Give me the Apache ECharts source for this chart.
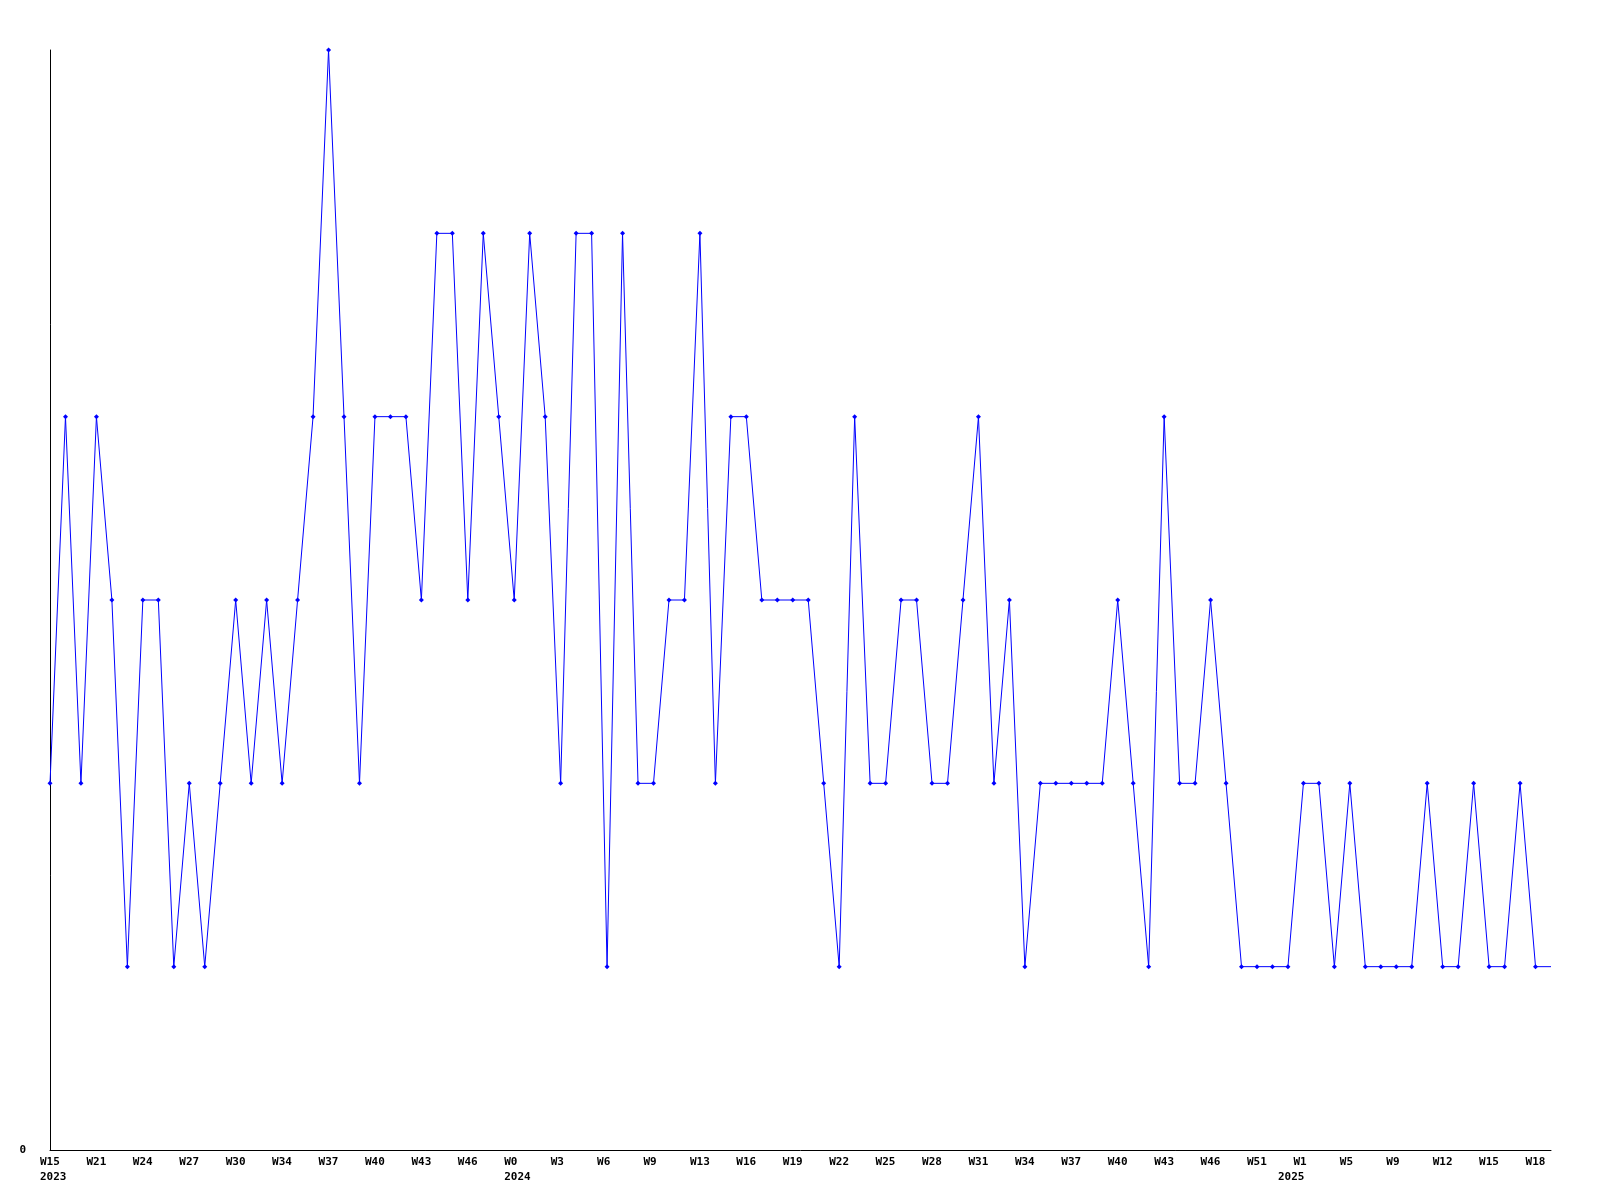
<!DOCTYPE html>
<html>
<head>
<meta charset="utf-8">
<script src="https://cdn.jsdelivr.net/npm/echarts@6/dist/echarts.min.js"></script>
<style>
html,body{margin:0;padding:0;background:#fff;}
#chart{width:1600px;height:1200px;}
</style>
</head>
<body>
<div id="chart"></div>
<script>
const weeks = [
 "W15","W17","W19","W21","W22","W23","W24","W25","W26","W27","W28","W29","W30","W31","W33",
 "W34","W35","W36","W37","W38","W39","W40","W41","W42","W43","W44","W45","W46","W48","W50",
 "W0","W1","W2","W3","W4","W5","W6","W7","W8","W9","W10","W12","W13","W14","W15",
 "W16","W17","W18","W19","W20","W21","W22","W23","W24","W25","W26","W27","W28","W29","W30",
 "W31","W32","W33","W34","W35","W36","W37","W38","W39","W40","W41","W42","W43","W44","W45",
 "W46","W48","W50","W51","W52","W0","W1","W2","W4","W5","W6","W8","W9","W10","W11",
 "W12","W13","W14","W15","W16","W17","W18","W19"
];
const years = [
 "2023","","","","","","","","","","","","","","",
 "","","","","","","","","","","","","","","",
 "2024","","","","","","","","","","","","","","",
 "","","","","","","","","","","","","","","",
 "","","","","","","","","","","","","","","",
 "","","","","","2025","","","","","","","","","",
 "","","","","","","",""
];
const values = [
 2,4,2,4,3,1,3,3,1,2,1,2,3,2,3,
 2,3,4,6,4,2,4,4,4,3,5,5,3,5,4,
 3,5,4,2,5,5,1,5,2,2,3,3,5,2,4,
 4,3,3,3,3,2,1,4,2,2,3,3,2,2,3,
 4,2,3,1,2,2,2,2,2,3,2,1,4,2,2,
 3,2,1,1,1,1,2,2,1,2,1,1,1,1,2,
 1,1,2,1,1,2,1,1
];
const yMin = 0, yMax = 6;

const seriesData = values.map((v, i) => i === values.length - 1 ? {value: v, symbol: 'none'} : v);

const labelFont = {
  color: '#000',
  fontFamily: 'DejaVu Sans Mono',
  fontWeight: 'bold',
  fontSize: 11
};

const chart = echarts.init(document.getElementById('chart'), null, {renderer: 'canvas'});
chart.setOption({
  animation: false,
  backgroundColor: '#ffffff',
  grid: {left: 50, right: 49, top: 50, bottom: 50, containLabel: false},
  xAxis: [{
    type: 'category',
    data: weeks,
    boundaryGap: false,
    position: 'bottom',
    axisLine: {lineStyle: {color: '#000', width: 1}},
    axisTick: {show: false},
    splitLine: {show: false},
    axisLabel: {
      interval: 2,
      margin: 7,
      verticalAlign: 'top',
      formatter: v => '{a|' + v + '}',
      rich: {a: Object.assign({width: 20, align: 'left'}, labelFont)}
    }
  }, {
    type: 'category',
    data: years,
    boundaryGap: false,
    position: 'bottom',
    axisLine: {show: false},
    axisTick: {show: false},
    splitLine: {show: false},
    axisLabel: {
      interval: (i, v) => v !== '',
      margin: 22,
      verticalAlign: 'top',
      formatter: v => '{a|' + v + '}',
      rich: {a: Object.assign({width: 20, align: 'left'}, labelFont)}
    }
  }],
  yAxis: {
    type: 'value',
    min: yMin,
    max: yMax,
    interval: 6,
    axisLine: {show: true, lineStyle: {color: '#000', width: 1}},
    axisTick: {show: false},
    splitLine: {show: false},
    axisLabel: Object.assign({
      margin: 24,
      formatter: v => v === 0 ? '0' : ''
    }, labelFont)
  },
  series: [{
    type: 'line',
    xAxisIndex: 0,
    data: seriesData,
    symbol: 'diamond',
    symbolSize: 5,
    showAllSymbol: true,
    lineStyle: {color: '#0000ff', width: 1},
    itemStyle: {color: '#0000ff', borderWidth: 0}
  }]
});
</script>
</body>
</html>
